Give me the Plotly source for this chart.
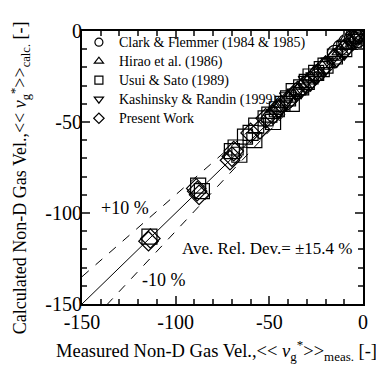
import plotly.graph_objects as go

# ---- data ----
clark_x = [-15, -12, -9, -8, -6, -4, -3, -2, -1, -5]
clark_y = [-12, -9, -6, -6, -4, -3, -5, -2, -1, -2]

hirao_x = [-50, -47, -45, -40, -37, -35, -32, -28, -26, -24, -20, -16, -12, -8, -4]
hirao_y = [-46, -43, -42, -37, -34, -33, -29, -26, -23, -22, -18, -14, -11, -8, -4]

usui_x = [-114, -88, -86, -70, -68, -66, -63, -60, -58, -57, -52, -50, -48, -46, -43, -40, -38, -37, -33,
          -30, -28, -25, -22, -20, -15, -10, -5, -3]
usui_y = [-113, -85, -88, -66, -64, -68, -58, -56, -60, -52, -48, -46, -50, -43, -40, -37, -40, -33, -31,
          -28, -25, -23, -21, -19, -14, -10, -6, -3]

kash_x = [-45, -42, -40, -36, -33, -30, -28, -26, -22, -18, -14, -10, -6, -3]
kash_y = [-44, -40, -36, -34, -33, -27, -29, -25, -23, -17, -16, -12, -7, -2]

present_x = [-114.5, -113.5, -88.5, -87.5, -89, -70, -69, -71, -60, -55, -52, -48, -45, -40, -35, -30, -25,
             -20, -15, -10, -5, -2]
present_y = [-115.5, -114, -88, -90, -86.5, -69, -66, -71, -56, -54, -48, -46, -42, -38, -33, -29, -24,
             -19, -15, -10, -5, -2]

series_names = ["Clark & Flemmer (1984 & 1985)", "Hirao et al. (1986)", "Usui & Sato (1989)",
                "Kashinsky & Randin (1999)", "Present Work"]
series_symbols = ["circle-open", "triangle-up-open", "square-open", "triangle-down-open", "diamond-open"]
series_x = [clark_x, hirao_x, usui_x, kash_x, present_x]
series_y = [clark_y, hirao_y, usui_y, kash_y, present_y]

tick_vals = [-150, -100, -50, 0]
tick_text = ["-150", "-100", "-50", "0"]

line_x = [-150, 0]
ratios = [1.0, 0.9, 1.1]

FONT = "Liberation Serif"

fig = go.Figure()

for r in ratios:
    fig.add_trace(go.Scatter(x=line_x, y=[v * r for v in line_x], mode="lines",
                             line=dict(color="black", width=1, dash="solid" if r == 1.0 else "dash"),
                             showlegend=False, hoverinfo="skip"))

for xs, ys, sym in zip(series_x, series_y, series_symbols):
    fig.add_trace(go.Scatter(x=xs, y=ys, mode="markers",
                             marker=dict(symbol=sym, size=15, color="black", line=dict(width=1.2, color="black")),
                             showlegend=False))

for name, sym in zip(series_names, series_symbols):
    fig.add_trace(go.Scatter(x=[None], y=[None], mode="markers",
                             name="<span style='font-size:14px'>" + name + "</span>",
                             marker=dict(symbol=sym, size=8, color="black", line=dict(width=1.2, color="black"))))

axis_common = dict(range=[-150, 0], tickvals=tick_vals, ticktext=tick_text, ticks="inside", ticklen=8,
                   tickwidth=1.5, showline=True, linewidth=2, linecolor="black", mirror="allticks",
                   showgrid=False, zeroline=False,
                   tickfont=dict(family=FONT, size=20, color="black"),
                   minor=dict(dtick=10, ticks="inside", ticklen=5, tickwidth=1.5, showgrid=False))

fig.update_layout(
    width=384, height=374,
    margin=dict(l=74, r=29, t=16, b=78),
    paper_bgcolor="white", plot_bgcolor="white",
    font=dict(family=FONT, color="black"),
    xaxis=dict(axis_common, ticklabelstandoff=-1),
    yaxis=dict(axis_common, ticklabelstandoff=-6),
    legend=dict(x=-0.011, y=1.012, xanchor="left", yanchor="top", bgcolor="rgba(0,0,0,0)",
                font=dict(family=FONT, size=11), itemsizing="trace", tracegroupgap=0),
    annotations=[
        dict(xref="paper", yref="paper", x=0.480, y=-0.171, xanchor="center", yanchor="middle",
             text="Measured Non-D Gas Vel.,<< <i>v</i><sub>g</sub><sup>*</sup>>><sub>meas.</sub> [-]",
             showarrow=False, font=dict(family=FONT, size=18.5)),
        dict(xref="paper", yref="paper", x=-0.2206, y=0.461, xanchor="center", yanchor="middle", textangle=-90,
             text="Calculated Non-D Gas Vel.,<< <i>v</i><sub>g</sub><sup>*</sup>>><sub>calc.</sub> [-]",
             showarrow=False, font=dict(family=FONT, size=18)),
        dict(x=-127, y=-97, text="+10 %", showarrow=False, font=dict(family=FONT, size=18)),
        dict(x=-106, y=-137, text="-10 %", showarrow=False, font=dict(family=FONT, size=18)),
        dict(x=-51.3, y=-119.3, text="Ave. Rel. Dev.= ±15.4 %", showarrow=False, font=dict(family=FONT, size=17)),
    ],
)

fig.write_html("out.html")
